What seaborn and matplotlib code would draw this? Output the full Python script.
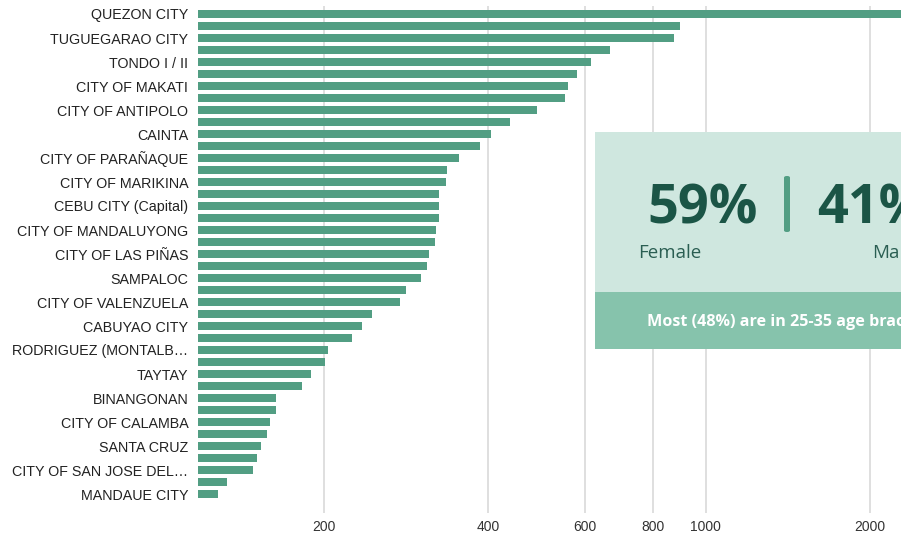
import matplotlib
matplotlib.use("Agg")
import matplotlib.pyplot as plt
from matplotlib.patches import Rectangle, FancyBboxPatch
import seaborn as sns
import pandas as pd

# ---- data ----
shown_labels = [
    "QUEZON CITY", "TUGUEGARAO CITY", "TONDO I / II", "CITY OF MAKATI",
    "CITY OF ANTIPOLO", "CAINTA", "CITY OF PARAÑAQUE", "CITY OF MARIKINA",
    "CEBU CITY (Capital)", "CITY OF MANDALUYONG", "CITY OF LAS PIÑAS",
    "SAMPALOC", "CITY OF VALENZUELA", "CABUYAO CITY", "RODRIGUEZ (MONTALB…",
    "TAYTAY", "BINANGONAN", "CITY OF CALAMBA", "SANTA CRUZ",
    "CITY OF SAN JOSE DEL…", "MANDAUE CITY",
]
values = [
    3200, 897, 875, 668, 617, 581, 560, 553, 491, 438, 404, 386, 353, 336,
    335, 325, 325, 325, 321, 319, 311, 309, 301, 283, 275, 245, 235, 225,
    203, 201, 189, 182, 163, 163, 159, 157, 153, 151, 148, 133, 128,
]
x_ticks = [200, 400, 600, 800, 1000, 2000]

# every other bar carries a visible label
categories = []
for i in range(len(values)):
    if i % 2 == 0:
        categories.append(shown_labels[i // 2])
    else:
        categories.append("\u200b" * i)
df = pd.DataFrame({"city": categories, "value": values})

BAR = "#529E83"
W, H = 901, 535

sns.set_theme(style="white")
plt.rcParams["font.family"] = ["Liberation Sans", "DejaVu Sans"]

fig = plt.figure(figsize=(W / 100, H / 100), dpi=100)
ax_top, ax_bot = 6, 513
ax = fig.add_axes([198 / W, 1 - ax_bot / H, 1 - 198 / W, (ax_bot - ax_top) / H])
ax.set_xscale("log")
sns.barplot(data=df, x="value", y="city", orient="h", color=BAR,
            width=0.6, ax=ax, saturation=1, linewidth=0)
ax.set_xlim(117.5, 2280)
# centres of first/last bar at y=14 / y=494 px (12 px spacing)
ax.set_ylim(40 + (ax_bot - 494) / 12, -(14 - ax_top) / 12)

ax.set_xticks(x_ticks)
ax.set_xticklabels([str(t) for t in x_ticks], fontsize=10, color="#333333")
ax.xaxis.set_minor_locator(matplotlib.ticker.NullLocator())
ax.set_yticks(range(0, len(values), 2))
ax.set_yticklabels(shown_labels, fontsize=10.3, color="#222222")
ax.tick_params(axis="both", length=0)
ax.tick_params(axis="y", pad=7)
ax.tick_params(axis="x", pad=5)
ax.set_xlabel("")
ax.set_ylabel("")
for s in ax.spines.values():
    s.set_visible(False)
ax.grid(axis="x", color="#D9D9D9", linewidth=1.2)
ax.set_axisbelow(True)


def fx(px):
    return px / W


def fy(py):
    return 1 - py / H


# overlay card
fig.add_artist(Rectangle((fx(595), fy(292)), fx(W - 595 + 10), (292 - 132) / H,
                         transform=fig.transFigure, facecolor="#CFE7DF",
                         edgecolor="none", zorder=5))
fig.add_artist(Rectangle((fx(595), fy(349)), fx(W - 595 + 10), (349 - 292) / H,
                         transform=fig.transFigure, facecolor="#86C3AC",
                         edgecolor="none", zorder=5))
fig.add_artist(FancyBboxPatch((fx(784), fy(232)), fx(6), (232 - 176) / H,
                              boxstyle="round,pad=0,rounding_size=0.003",
                              transform=fig.transFigure, facecolor="#529E83",
                              edgecolor="none", zorder=6))

big = dict(family=["Open Sans", "DejaVu Sans"], fontweight="bold",
           color="#1B5546", fontsize=39, zorder=7, transform=fig.transFigure,
           va="baseline")
fig.text(fx(647), fy(223), "59%", ha="left", **big)
fig.text(fx(817), fy(223), "41%", ha="left", **big)
small = dict(family=["Open Sans", "DejaVu Sans"], color="#2A5E52",
             fontsize=13.5, zorder=7, transform=fig.transFigure, va="baseline")
fig.text(fx(638), fy(258), "Female", ha="left", **small)
fig.text(fx(872), fy(258), "Male", ha="left", **small)
fig.text(fx(647), fy(322), "Most (48%) are in 25-35 age bracket", ha="left",
         va="center", family=["Open Sans", "DejaVu Sans"], fontweight="bold",
         color="white", fontsize=11.6, zorder=7, transform=fig.transFigure)

fig.savefig("out.png", dpi=100)
